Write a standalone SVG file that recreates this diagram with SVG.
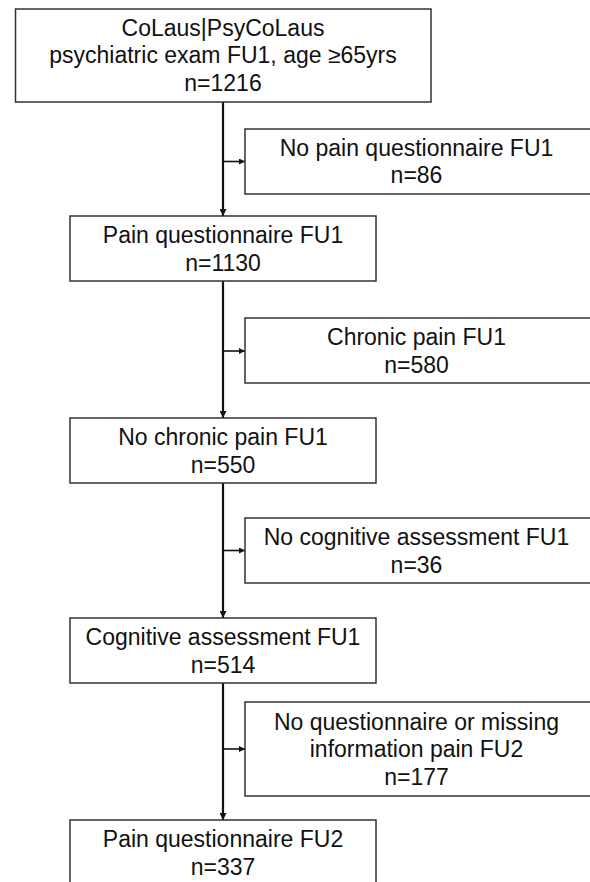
<svg xmlns="http://www.w3.org/2000/svg" width="590" height="882" viewBox="0 0 590 882">
<defs>
<style>
.box{fill:#fff;stroke:#333;stroke-width:1.5}
.t{font-family:"Liberation Sans",Arial,sans-serif;font-size:23px;fill:#111;text-anchor:middle}
.main{stroke:#111;stroke-width:2.2;fill:none}
.side{stroke:#111;stroke-width:1.6;fill:none}
</style>
<marker id="ah" viewBox="0 0 10 10" refX="10" refY="5" markerWidth="7" markerHeight="7" markerUnits="userSpaceOnUse" orient="auto">
<path d="M0,0 L10,5 L0,10 z" fill="#111"/>
</marker>
<marker id="ahs" viewBox="0 0 10 10" refX="10" refY="5" markerWidth="6" markerHeight="6" markerUnits="userSpaceOnUse" orient="auto">
<path d="M0,0 L10,5 L0,10 z" fill="#111"/>
</marker>
</defs>
<rect width="590" height="882" fill="#fff"/>
<g id="connectors">
<line class="main" x1="223" y1="102" x2="223" y2="216" marker-end="url(#ah)"/>
<line class="main" x1="223" y1="281" x2="223" y2="418" marker-end="url(#ah)"/>
<line class="main" x1="223" y1="483" x2="223" y2="618" marker-end="url(#ah)"/>
<line class="main" x1="223" y1="683" x2="223" y2="820" marker-end="url(#ah)"/>
<line class="side" x1="223" y1="161.5" x2="245" y2="161.5" marker-end="url(#ahs)"/>
<line class="side" x1="223" y1="351" x2="245" y2="351" marker-end="url(#ahs)"/>
<line class="side" x1="223" y1="550.5" x2="245" y2="550.5" marker-end="url(#ahs)"/>
<line class="side" x1="223" y1="749" x2="245" y2="749" marker-end="url(#ahs)"/>
</g>
<g id="n1">
<rect class="box" x="15.5" y="9" width="415.5" height="93"/>
<text class="t" x="223" y="36">CoLaus|PsyCoLaus</text>
<text class="t" x="223" y="63">psychiatric exam FU1, age ≥65yrs</text>
<text class="t" x="223" y="91">n=1216</text>
</g>
<g id="n2">
<rect class="box" x="245" y="129" width="350" height="65"/>
<text class="t" x="416.5" y="156">No pain questionnaire FU1</text>
<text class="t" x="416.5" y="183">n=86</text>
</g>
<g id="n3">
<rect class="box" x="70" y="216" width="306" height="65"/>
<text class="t" x="223" y="243">Pain questionnaire FU1</text>
<text class="t" x="223" y="271">n=1130</text>
</g>
<g id="n4">
<rect class="box" x="245" y="318" width="350" height="65"/>
<text class="t" x="416.5" y="345">Chronic pain FU1</text>
<text class="t" x="416.5" y="373">n=580</text>
</g>
<g id="n5">
<rect class="box" x="70" y="418" width="306" height="65"/>
<text class="t" x="223" y="445">No chronic pain FU1</text>
<text class="t" x="223" y="473">n=550</text>
</g>
<g id="n6">
<rect class="box" x="245" y="518" width="350" height="65"/>
<text class="t" x="416.5" y="545">No cognitive assessment FU1</text>
<text class="t" x="416.5" y="573">n=36</text>
</g>
<g id="n7">
<rect class="box" x="70" y="618" width="306" height="65"/>
<text class="t" x="223" y="645">Cognitive assessment FU1</text>
<text class="t" x="223" y="673">n=514</text>
</g>
<g id="n8">
<rect class="box" x="245" y="702" width="350" height="94"/>
<text class="t" x="416.5" y="730">No questionnaire or missing</text>
<text class="t" x="416.5" y="757">information pain FU2</text>
<text class="t" x="416.5" y="785">n=177</text>
</g>
<g id="n9">
<rect class="box" x="70" y="820" width="306" height="80"/>
<text class="t" x="223" y="847">Pain questionnaire FU2</text>
<text class="t" x="223" y="875">n=337</text>
</g>
</svg>
